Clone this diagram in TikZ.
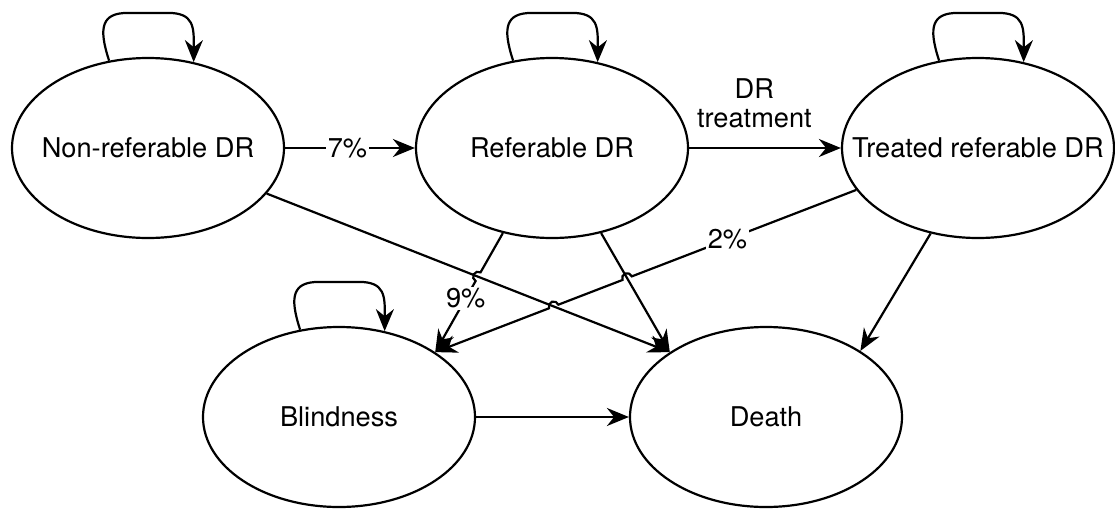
\documentclass[tikz,border=0pt]{standalone}
\usepackage{fontspec}
\setmainfont{TeX Gyre Heros}
\usetikzlibrary{shapes.geometric,arrows.meta,calc,intersections}
\begin{document}
\begin{tikzpicture}[x=0.5pt,y=0.5pt,
  txt/.style={font=\fontsize{13.6}{14.5}\selectfont},
  state/.style={ellipse,draw,line width=1.1pt,minimum width=136pt,minimum height=90pt,inner sep=0pt,txt},
  arr/.style={line width=1.1pt,-{Stealth[length=11pt,width=9pt,inset=3.6pt]}},
  lbl/.style={fill=white,inner sep=1pt,txt},
]
\useasboundingbox[fill=white] (0,0) rectangle (1115,-509);

\node[state] (nr) at (148,-148) {\makebox[0pt]{Non-referable DR}};
\node[state] (ref) at (552,-148) {\makebox[0pt]{Referable DR}};
\node[state] (trd) at (978,-148) {\makebox[0pt]{Treated referable DR}};
\node[state] (bl) at (339,-417) {\makebox[0pt]{Blindness}};
\node[state] (death) at (766,-417) {\makebox[0pt]{Death}};

% self loops
\foreach \n in {nr,ref,trd,bl}
  \draw[arr] (\n.114) .. controls ($(\n.north)+(-50,30)$) and ($(\n.north)+(-46,44)$) .. ($(\n.north)+(-20,44)$)
    -- ($(\n.north)+(20,44)$) .. controls ($(\n.north)+(46,44)$) and ($(\n.north)+(46,30)$) .. (\n.62);

% straight edges
\draw[arr] (nr.east) -- node[lbl,pos=0.48] (l7) {7\%} (ref.west);
\draw[arr] (ref.east) -- node[pos=0.43,above=9.5pt,inner sep=0pt,align=center,txt] (ltr) {DR\\treatment} (trd.west);
\draw[arr] (nr.-21) -- (death.146);
\draw[arr] (ref.300) -- (death.146);
\draw[arr] (trd.241) -- (death.35);
\draw[arr] (bl.east) -- (death.west);

% paths for crossings
\path[name path=lNRD] (nr.-21) -- (death.146);
\path[name path=lRD] (ref.300) -- (death.146);
\path[name path=lRB] (ref.240) -- (bl.34);
\path[name path=lTB] (trd.199) -- (bl.34);
\path[name intersections={of=lRB and lNRD, by=J1}];
\path[name intersections={of=lTB and lRD, by=J2}];
\path[name intersections={of=lTB and lNRD, by=J3}];

% edges with line jumps
\draw[arr] let \p1=($(ref.240)-(J1)$), \n1={atan2(\y1,\x1)} in
  (ref.240) -- ($(J1)!2.5pt!(ref.240)$) arc[start angle=\n1, delta angle=180, radius=2.5pt] -- (bl.34);
\draw[arr] let \p1=($(trd.199)-(J2)$), \n1={atan2(\y1,\x1)} in
  (trd.199) -- ($(J2)!2.5pt!(trd.199)$) arc[start angle=\n1, delta angle=180, radius=2.5pt]
  -- ($(J3)!2.5pt!(trd.199)$) arc[start angle=\n1, delta angle=180, radius=2.5pt] -- (bl.34);

\node[lbl] (l9) at ($(ref.240)!0.55!(bl.34)$) {9\%};
\node[lbl] (l2) at ($(trd.199)!0.306!(bl.34)$) {2\%};
\end{tikzpicture}
\end{document}
